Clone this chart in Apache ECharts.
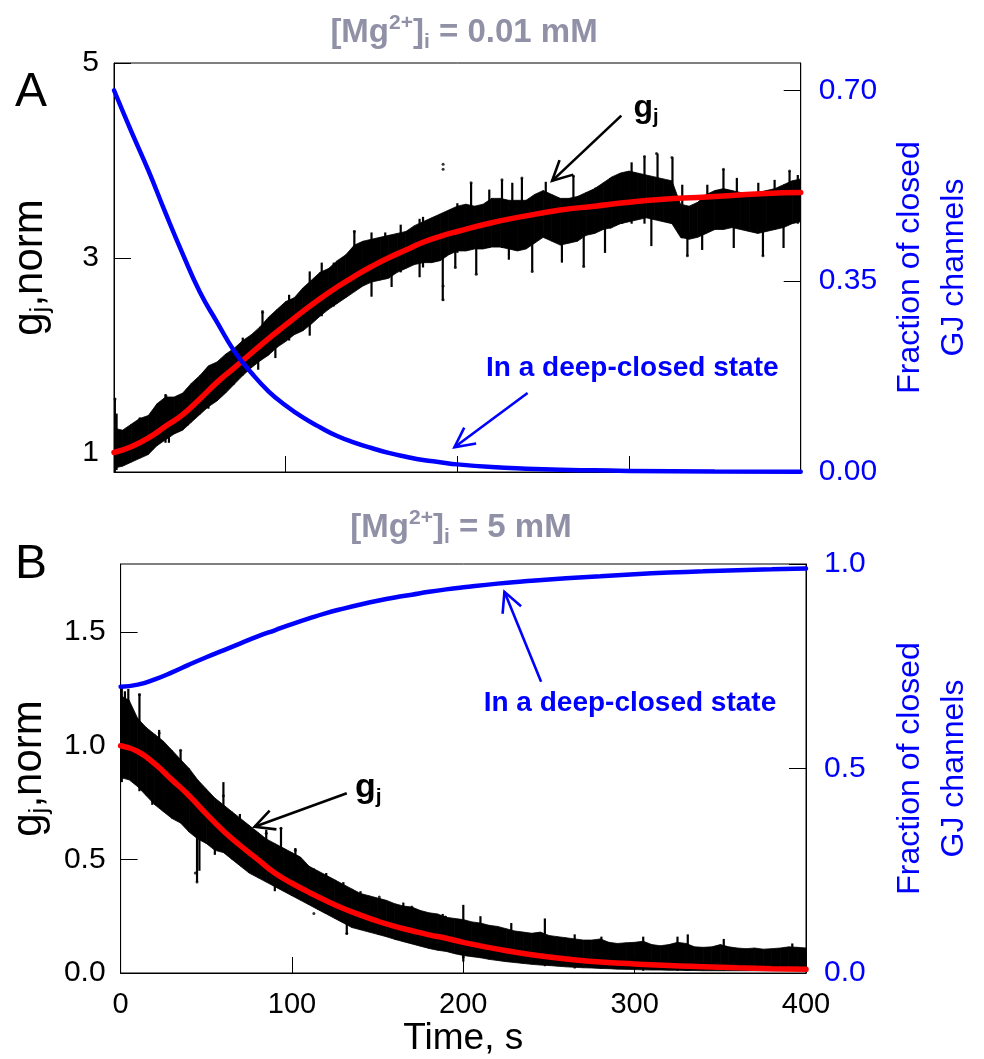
<!DOCTYPE html>
<html><head><meta charset="utf-8">
<script src="https://cdn.jsdelivr.net/npm/echarts@6/dist/echarts.min.js"></script>
<style>html,body{margin:0;padding:0;background:#fff}#c{width:984px;height:1059px}</style>
</head><body><div id="c"></div>
<script>
// ---------- DATA ----------
const xTicks = [0, 100, 200, 300, 400];
const leftTicksA = [1, 3, 5];
const rightTicksA = [0, 0.35, 0.7];
const leftTicksB = [0, 0.5, 1, 1.5];
const rightTicksB = [0, 0.5, 1];

// fitted gj (red) and fraction of channels in deep-closed state (blue)
const fitA = [[0,1.00],[10,1.06],[20,1.15],[30,1.27],[40,1.39],[50,1.55],[60,1.72],[70,1.87],[80,2.02],[90,2.17],[100,2.31],[110,2.45],[120,2.58],[130,2.70],[140,2.81],[150,2.91],[160,3.00],[170,3.08],[180,3.16],[190,3.22],[200,3.27],[220,3.36],[240,3.43],[260,3.49],[280,3.53],[300,3.57],[320,3.60],[340,3.62],[360,3.64],[380,3.66],[400,3.67]];
const closedA = [[0,0.70],[10,0.625],[20,0.553],[30,0.475],[40,0.40],[50,0.33],[60,0.275],[70,0.222],[80,0.182],[90,0.148],[100,0.122],[110,0.100],[120,0.082],[130,0.066],[140,0.054],[150,0.044],[160,0.035],[170,0.028],[180,0.022],[190,0.018],[200,0.014],[220,0.009],[240,0.006],[260,0.004],[280,0.003],[300,0.002],[350,0.001],[400,0.0005]];
const fitB = [[0,1.00],[10,0.975],[20,0.92],[30,0.85],[40,0.78],[50,0.70],[60,0.625],[70,0.56],[80,0.50],[90,0.44],[100,0.395],[110,0.355],[120,0.318],[130,0.284],[140,0.255],[150,0.228],[160,0.205],[170,0.186],[180,0.168],[190,0.153],[200,0.135],[220,0.105],[240,0.08],[260,0.062],[280,0.048],[300,0.04],[320,0.033],[340,0.028],[360,0.023],[380,0.019],[400,0.016]];
const closedB = [[0,0.70],[10,0.705],[20,0.718],[30,0.735],[40,0.754],[50,0.772],[60,0.789],[70,0.806],[80,0.823],[90,0.838],[100,0.853],[110,0.867],[120,0.880],[130,0.891],[140,0.901],[150,0.910],[160,0.918],[170,0.925],[180,0.932],[190,0.938],[200,0.943],[220,0.952],[240,0.959],[260,0.965],[280,0.970],[300,0.975],[320,0.979],[340,0.982],[360,0.985],[380,0.987],[400,0.989]];

// measured gj: dense band (low / high edge) every 5 s
const bandTime = [0,5,10,15,20,25,30,35,40,45,50,55,60,65,70,75,80,85,90,95,100,105,110,115,120,125,130,135,140,145,150,155,160,165,170,175,180,185,190,195,200,205,210,215,220,225,230,235,240,245,250,255,260,265,270,275,280,285,290,295,300,305,310,315,320,325,330,335,340,345,350,355,360,365,370,375,380,385,390,395,400];
const bandA_lo = [0.84,0.86,0.90,0.94,0.98,1.07,1.13,1.19,1.23,1.31,1.39,1.47,1.53,1.61,1.70,1.79,1.87,1.94,2.00,2.08,2.14,2.21,2.25,2.32,2.40,2.47,2.53,2.59,2.65,2.71,2.75,2.77,2.79,2.85,2.89,2.93,2.95,2.95,2.97,3.03,3.07,3.07,3.09,3.09,3.11,3.11,3.09,3.07,3.09,3.15,3.21,3.17,3.13,3.15,3.17,3.23,3.25,3.29,3.31,3.35,3.37,3.39,3.41,3.39,3.37,3.35,3.21,3.19,3.21,3.25,3.29,3.29,3.31,3.29,3.27,3.25,3.27,3.29,3.31,3.35,3.37];
const bandA_hi = [1.25,1.23,1.29,1.35,1.38,1.50,1.57,1.57,1.61,1.71,1.79,1.89,1.93,2.01,2.07,2.15,2.21,2.29,2.39,2.47,2.55,2.59,2.69,2.77,2.85,2.89,2.97,3.03,3.13,3.17,3.19,3.21,3.23,3.25,3.27,3.33,3.37,3.41,3.45,3.49,3.53,3.55,3.53,3.55,3.61,3.61,3.59,3.59,3.59,3.65,3.69,3.65,3.61,3.61,3.63,3.67,3.71,3.77,3.83,3.87,3.89,3.87,3.85,3.83,3.81,3.79,3.55,3.53,3.57,3.65,3.69,3.71,3.69,3.67,3.67,3.67,3.69,3.71,3.75,3.79,3.81];
const bandB_lo = [0.86,0.85,0.82,0.78,0.74,0.71,0.68,0.66,0.62,0.59,0.57,0.54,0.53,0.50,0.47,0.44,0.42,0.40,0.38,0.36,0.34,0.32,0.30,0.28,0.26,0.24,0.22,0.20,0.19,0.18,0.17,0.16,0.148,0.138,0.128,0.118,0.108,0.10,0.095,0.085,0.077,0.072,0.067,0.06,0.055,0.05,0.046,0.042,0.038,0.035,0.033,0.03,0.027,0.025,0.023,0.022,0.02,0.019,0.017,0.016,0.015,0.014,0.013,0.013,0.012,0.012,0.011,0.011,0.01,0.01,0.01,0.01,0.01,0.01,0.01,0.01,0.01,0.01,0.01,0.01,0.01];
const bandB_hi = [1.22,1.20,1.12,1.08,1.05,1.02,0.98,0.94,0.90,0.85,0.81,0.77,0.74,0.71,0.68,0.65,0.62,0.59,0.57,0.55,0.53,0.51,0.47,0.45,0.43,0.41,0.39,0.37,0.35,0.34,0.33,0.32,0.305,0.295,0.29,0.275,0.265,0.26,0.245,0.24,0.235,0.225,0.22,0.21,0.205,0.195,0.185,0.18,0.175,0.18,0.165,0.16,0.155,0.15,0.145,0.145,0.15,0.135,0.13,0.133,0.135,0.14,0.125,0.12,0.125,0.135,0.13,0.115,0.113,0.115,0.125,0.115,0.11,0.107,0.11,0.105,0.107,0.11,0.115,0.113,0.11];

// measured gj: taller noise columns [time, low, high] and isolated points [time, value]
const spikesA = [[0.5,0.80,1.56],[1.5,0.82,1.40],[15,1.0,1.36],[30,1.10,1.60],[32,1.10,1.5],[43,1.28,1.66],[53,1.45,1.82],[55,1.45,1.75],[61,1.58,1.92],[75,1.80,2.18],[84,1.85,2.2],[86.5,2.0,2.46],[94,1.97,2.4],[102,2.15,2.62],[114,2.2,2.86],[121,2.4,2.95],[128,2.5,2.95],[140,2.72,3.28],[150,2.6,3.26],[158,2.78,3.26],[161.7,2.70,3.2],[167,2.85,3.34],[178,2.80,3.40],[180,2.9,3.42],[191.5,2.56,3.46],[198.8,2.90,3.45],[200,3.05,3.56],[208,3.3,3.77],[211,2.83,3.4],[218.6,3.1,3.70],[226,3.1,3.80],[230,2.98,3.5],[232,3.2,3.77],[237.6,3.1,3.82],[243.6,2.86,3.45],[251.5,3.2,3.78],[260.9,2.95,3.5],[267.6,3.2,3.84],[273.6,2.91,3.5],[280.5,3.3,3.72],[286,3.05,3.6],[289,3.3,3.82],[296,3.35,3.87],[301.5,3.35,3.98],[309,3.35,4.04],[313,3.12,3.7],[316.6,3.4,4.07],[325.3,3.35,4.03],[331,3.2,3.75],[334,3.02,3.5],[342.6,3.08,3.5],[345.6,3.3,3.75],[355,3.3,3.91],[361,3.10,3.6],[362.8,3.35,3.82],[375.3,3.3,3.77],[378,3.02,3.5],[384.8,3.3,3.80],[390,3.10,3.6],[393.5,3.35,3.89],[398.3,3.35,3.85]];
const dotsA = [[191.7,3.96],[191.7,3.91],[309,4.04],[316,4.07],[325,4.03],[355,3.91],[393.5,3.89],[267.6,3.84],[226,3.80],[237.6,3.82],[208,3.77],[211,2.83],[243.6,2.86],[273.6,2.91],[198.8,2.90],[334,3.02],[378,3.02],[191.7,2.57],[191.7,2.71],[140,3.27],[0.6,1.55],[86.5,2.44],[15,1.34],[30.3,1.58]];
const spikesB = [[0.7,0.84,1.26],[2.5,0.86,1.24],[4.5,0.88,1.25],[11,0.80,1.23],[18.5,0.74,1.0],[22.5,0.75,1.07],[28,0.70,0.95],[35,0.70,0.98],[42.7,0.62,0.86],[44.6,0.40,0.84],[46,0.45,0.78],[55,0.52,0.72],[60,0.56,0.84],[69.6,0.50,0.70],[74.4,0.45,0.62],[85,0.44,0.63],[90,0.36,0.55],[93.6,0.40,0.64],[102,0.36,0.55],[103,0.34,0.5],[112.8,0.30,0.46],[120,0.26,0.44],[130,0.24,0.40],[132,0.17,0.35],[140,0.2,0.36],[151,0.19,0.33],[160.8,0.15,0.30],[165,0.14,0.31],[170,0.15,0.29],[188,0.10,0.26],[189.6,0.11,0.25],[200,0.05,0.30],[210,0.07,0.25],[228,0.05,0.22],[247.6,0.03,0.24],[265,0.02,0.17],[280.6,0.02,0.16],[305,0.01,0.16],[325,0.01,0.16],[331,0.01,0.17],[352,0.01,0.15],[392,0.01,0.13]];
const dotsB = [[11,1.225],[35,0.98],[42.7,0.857],[44.6,0.40],[60,0.78],[93.6,0.637],[85,0.615],[70.5,0.66],[103,0.38],[151,0.174],[22.5,1.056],[41.7,0.865],[43.6,0.44],[69.6,0.666],[102,0.54],[151,0.335],[170,0.29],[189.6,0.247],[200,0.07],[112.8,0.262],[132,0.174],[160.8,0.152]];

// annotation arrows [tailTime, tailValue, tipTime, tipValue] and text anchors (data coordinates)
const arrowGjA = [[295.5,4.46,255.2,3.79]];
const arrowClosedA = [[240.9,0.145,198.3,0.0454]];
const arrowGjB = [[132,0.791,78.2,0.644]];
const arrowClosedB = [[245.4,0.712,224.0,0.932]];
const textGjA = [302.6,4.54];
const textGjB = [136.8,0.815];
const textClosedA = [216.7,0.1905];
const textClosedB = [211.9,0.660];

// ---------- CHART ----------
const FONT = '"Liberation Sans", Arial, Helvetica, sans-serif';
const BLUE = '#0000ff';
const RED = '#ff0000';
const TITLE_COLOR = '#9090a6';

const chart = echarts.init(document.getElementById('c'), null, {renderer: 'canvas'});

function xAxis(gi, showLabels) {
  const a = {
    gridIndex: gi, type: 'value', min: 0, max: 400, interval: 100,
    axisLine: {show: true, onZero: false, lineStyle: {color: '#000', width: 1}},
    axisTick: {show: true, inside: true, length: 16, lineStyle: {color: '#000', width: 1}},
    axisLabel: {show: showLabels, fontSize: 29, color: '#000', margin: 17, fontFamily: FONT},
    splitLine: {show: false}
  };
  if (showLabels) {
    a.name = 'Time, s'; a.nameLocation = 'middle'; a.nameGap = 46;
    a.nameTextStyle = {fontSize: 37, color: '#000', fontFamily: FONT};
  }
  return a;
}
const gjName = {
  name: '{a|g}{s|j}{a|,norm}', nameLocation: 'middle', nameRotate: 90,
  nameTextStyle: {rich: {
    a: {fontSize: 42, fontFamily: FONT, color: '#000', lineHeight: 48},
    s: {fontSize: 26, fontFamily: FONT, color: '#000', lineHeight: 14, verticalAlign: 'bottom'}
  }}
};
const fracName = {
  name: 'Fraction of closed\nGJ channels', nameLocation: 'middle', nameRotate: 90,
  nameTextStyle: {fontSize: 32, fontFamily: FONT, color: BLUE, lineHeight: 44, align: 'center'}
};
function yAxis(gi, pos, min, max, ticks, fmt, color, margin, extra) {
  return Object.assign({
    gridIndex: gi, type: 'value', position: pos, min: min, max: max,
    axisLine: {show: true, onZero: false, lineStyle: {color: '#000', width: 1}},
    axisTick: {show: true, inside: true, length: 17, customValues: ticks, lineStyle: {color: '#000', width: 1}},
    axisLabel: {show: true, customValues: ticks, formatter: fmt, fontSize: 30, color: color, margin: margin, fontFamily: FONT},
    splitLine: {show: false}
  }, extra);
}

const gjRich = size => ({
  g: {fontSize: size, fontWeight: 'bold', fontFamily: FONT, color: '#000', lineHeight: 40},
  j: {fontSize: Math.round(size * 0.62), fontWeight: 'bold', fontFamily: FONT, color: '#000', lineHeight: 12, verticalAlign: 'bottom'}
});
function textMark(coord, text, style) {
  return {
    symbol: 'circle', symbolSize: 1, itemStyle: {color: 'rgba(0,0,0,0)'}, silent: true, animation: false,
    data: [{coord: coord, value: 0, label: Object.assign({show: true, position: 'inside', align: 'left', verticalAlign: 'middle', formatter: text}, style)}]
  };
}
// band drawn as quads between consecutive samples
function bandRows(lo, hi) {
  const rows = [];
  for (let i = 0; i < bandTime.length - 1; i++) {
    rows.push([bandTime[i], lo[i], hi[i], bandTime[i + 1], lo[i + 1], hi[i + 1]]);
  }
  return rows;
}
function bandSeries(xi, yi, lo, hi) {
  return {
    type: 'custom', xAxisIndex: xi, yAxisIndex: yi, data: bandRows(lo, hi), silent: true, z: 1, clip: true,
    encode: {x: [0, 3], y: [1, 2, 4, 5]},
    renderItem: (params, api) => {
      const a = api.coord([api.value(0), api.value(1)]);
      const b = api.coord([api.value(0), api.value(2)]);
      const c = api.coord([api.value(3), api.value(5)]);
      const d = api.coord([api.value(3), api.value(4)]);
      return {type: 'polygon', shape: {points: [a, b, c, d]}, style: {fill: '#000', stroke: '#000', lineWidth: 0.8}};
    }
  };
}
function spikeSeries(xi, yi, data) {
  return {
    type: 'custom', xAxisIndex: xi, yAxisIndex: yi, data: data, silent: true, z: 1, clip: true,
    encode: {x: 0, y: [1, 2]},
    renderItem: (params, api) => {
      const p1 = api.coord([api.value(0), api.value(1)]);
      const p2 = api.coord([api.value(0), api.value(2)]);
      return {type: 'line', shape: {x1: p1[0], y1: p1[1], x2: p2[0], y2: p2[1]}, style: {stroke: '#000', lineWidth: 2.2}};
    }
  };
}
function dotSeries(xi, yi, data) {
  return {type: 'scatter', xAxisIndex: xi, yAxisIndex: yi, data: data, symbolSize: 3, itemStyle: {color: '#000'}, silent: true, z: 1};
}
// open-headed arrows
function arrowSeries(xi, yi, data, color) {
  return {
    type: 'custom', xAxisIndex: xi, yAxisIndex: yi, data: data, silent: true, z: 6, clip: false,
    encode: {x: [0, 2], y: [1, 3]},
    renderItem: (params, api) => {
      const p1 = api.coord([api.value(0), api.value(1)]);
      const p2 = api.coord([api.value(2), api.value(3)]);
      const ang = Math.atan2(p1[1] - p2[1], p1[0] - p2[0]);
      const L = 22, w = 0.47;
      const w1 = [p2[0] + L * Math.cos(ang + w), p2[1] + L * Math.sin(ang + w)];
      const w2 = [p2[0] + L * Math.cos(ang - w), p2[1] + L * Math.sin(ang - w)];
      const st = {stroke: color, lineWidth: 2.6, fill: null, lineJoin: 'miter', lineCap: 'butt'};
      return {type: 'group', children: [
        {type: 'line', shape: {x1: p1[0], y1: p1[1], x2: p2[0], y2: p2[1]}, style: st},
        {type: 'polyline', shape: {points: [w1, p2, w2]}, style: st}
      ]};
    }
  };
}

const option = {
  backgroundColor: '#ffffff',
  animation: false,
  textStyle: {fontFamily: FONT},
  grid: [
    {left: 114, top: 63, width: 694, height: 409, show: true, borderColor: '#000', borderWidth: 1, containLabel: false},
    {left: 119, top: 564, width: 694, height: 409, show: true, borderColor: '#000', borderWidth: 1, containLabel: false}
  ],
  xAxis: [xAxis(0, false), xAxis(1, true)],
  yAxis: [
    yAxis(0, 'left', 0.8, 5, leftTicksA, v => String(v), '#000', 15, Object.assign({nameGap: 60}, gjName)),
    yAxis(0, 'right', 0, 0.75, rightTicksA, v => v.toFixed(2), BLUE, 18, Object.assign({nameGap: 82}, fracName)),
    yAxis(1, 'left', 0, 1.8, leftTicksB, v => v.toFixed(1), '#000', 15, Object.assign({nameGap: 65}, gjName)),
    yAxis(1, 'right', 0, 1, rightTicksB, v => v.toFixed(1), BLUE, 18, Object.assign({nameGap: 82}, fracName))
  ],
  graphic: [
    {type: 'text', x: 15, y: 93, style: {text: 'A', fontSize: 48, fontFamily: FONT, fill: '#000', verticalAlign: 'middle'}},
    {type: 'text', x: 15, y: 565, style: {text: 'B', fontSize: 48, fontFamily: FONT, fill: '#000', verticalAlign: 'middle'}},
    {type: 'text', x: 464, y: 33, style: {
      text: '{t|[Mg}{p|2+}{t|]}{b|i}{t| = 0.01 mM}', align: 'center', verticalAlign: 'middle',
      rich: {
        t: {fontSize: 33, fontWeight: 'bold', fontFamily: FONT, fill: TITLE_COLOR, lineHeight: 40},
        p: {fontSize: 21, fontWeight: 'bold', fontFamily: FONT, fill: TITLE_COLOR, lineHeight: 14, verticalAlign: 'top'},
        b: {fontSize: 21, fontWeight: 'bold', fontFamily: FONT, fill: TITLE_COLOR, lineHeight: 12, verticalAlign: 'bottom'}
      }}},
    {type: 'text', x: 461, y: 528, style: {
      text: '{t|[Mg}{p|2+}{t|]}{b|i}{t| = 5 mM}', align: 'center', verticalAlign: 'middle',
      rich: {
        t: {fontSize: 33, fontWeight: 'bold', fontFamily: FONT, fill: TITLE_COLOR, lineHeight: 40},
        p: {fontSize: 21, fontWeight: 'bold', fontFamily: FONT, fill: TITLE_COLOR, lineHeight: 14, verticalAlign: 'top'},
        b: {fontSize: 21, fontWeight: 'bold', fontFamily: FONT, fill: TITLE_COLOR, lineHeight: 12, verticalAlign: 'bottom'}
      }}}
  ],
  series: [
    bandSeries(0, 0, bandA_lo, bandA_hi),
    spikeSeries(0, 0, spikesA),
    dotSeries(0, 0, dotsA),
    {type: 'line', name: 'fitA', xAxisIndex: 0, yAxisIndex: 0, data: fitA, smooth: 0.5, symbol: 'none', clip: false, z: 3,
     lineStyle: {color: RED, width: 5.5, cap: 'round'},
     markPoint: textMark(textGjA, '{g|g}{j|j}', {rich: gjRich(32)})},
    {type: 'line', name: 'closedA', xAxisIndex: 0, yAxisIndex: 1, data: closedA, smooth: 0.5, symbol: 'none', clip: false, z: 4,
     lineStyle: {color: BLUE, width: 4.5, cap: 'round'},
     markPoint: textMark(textClosedA, 'In a deep-closed state', {fontSize: 28, fontWeight: 'bold', color: BLUE, fontFamily: FONT})},
    arrowSeries(0, 0, arrowGjA, '#000'),
    arrowSeries(0, 1, arrowClosedA, BLUE),

    bandSeries(1, 2, bandB_lo, bandB_hi),
    spikeSeries(1, 2, spikesB),
    dotSeries(1, 2, dotsB),
    {type: 'line', name: 'fitB', xAxisIndex: 1, yAxisIndex: 2, data: fitB, smooth: 0.5, symbol: 'none', clip: false, z: 3,
     lineStyle: {color: RED, width: 5.5, cap: 'round'},
     markPoint: textMark(textGjB, '{g|g}{j|j}', {rich: gjRich(34)})},
    {type: 'line', name: 'closedB', xAxisIndex: 1, yAxisIndex: 3, data: closedB, smooth: 0.5, symbol: 'none', clip: false, z: 4,
     lineStyle: {color: BLUE, width: 4.5, cap: 'round'},
     markPoint: textMark(textClosedB, 'In a deep-closed state', {fontSize: 28, fontWeight: 'bold', color: BLUE, fontFamily: FONT})},
    arrowSeries(1, 2, arrowGjB, '#000'),
    arrowSeries(1, 3, arrowClosedB, BLUE)
  ]
};
chart.setOption(option);
</script>
</body></html>
